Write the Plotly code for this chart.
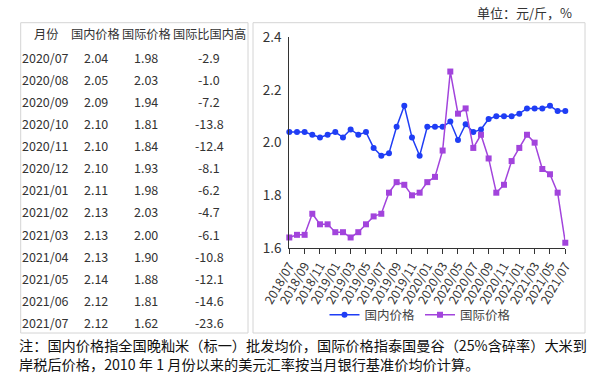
import plotly.graph_objects as go

# ---- data ----
months = [f"{y}/{m:02d}" for y, m in
          [(2018, m) for m in range(7, 13)] + [(2019, m) for m in range(1, 13)] +
          [(2020, m) for m in range(1, 13)] + [(2021, m) for m in range(1, 8)]]
domestic = [2.04, 2.04, 2.04, 2.03, 2.02, 2.03, 2.04, 2.02, 2.05, 2.03, 2.04, 1.98, 1.95,
            1.96, 2.06, 2.14, 2.02, 1.95, 2.06, 2.06, 2.06, 2.08, 2.01, 2.07, 2.04, 2.05,
            2.09, 2.10, 2.10, 2.10, 2.11, 2.13, 2.13, 2.13, 2.14, 2.12, 2.12]
international = [1.64, 1.65, 1.65, 1.73, 1.69, 1.69, 1.66, 1.66, 1.64, 1.66, 1.69, 1.72, 1.73,
                 1.81, 1.85, 1.84, 1.80, 1.81, 1.85, 1.87, 1.97, 2.27, 2.11, 2.13, 1.98, 2.03,
                 1.94, 1.81, 1.84, 1.93, 1.98, 2.03, 2.00, 1.90, 1.88, 1.81, 1.62]
tick_labels = months[::2]
y_ticks = [1.6, 1.8, 2.0, 2.2, 2.4]

table_header = ["月份", "国内价格", "国际价格", "国际比国内高"]
table_months = ["2020/07", "2020/08", "2020/09", "2020/10", "2020/11", "2020/12", "2021/01",
                "2021/02", "2021/03", "2021/04", "2021/05", "2021/06", "2021/07"]
table_dom = ["2.04", "2.05", "2.09", "2.10", "2.10", "2.10", "2.11", "2.13", "2.13", "2.13",
             "2.14", "2.12", "2.12"]
table_intl = ["1.98", "2.03", "1.94", "1.81", "1.84", "1.93", "1.98", "2.03", "2.00", "1.90",
              "1.88", "1.81", "1.62"]
table_diff = ["-2.9", "-1.0", "-7.2", "-13.8", "-12.4", "-8.1", "-6.2", "-4.7", "-6.1", "-10.8",
              "-12.1", "-14.6", "-23.6"]

unit_text = "单位：元/斤，%"
note_lines = ["注：国内价格指全国晚籼米（标一）批发均价，国际价格指泰国曼谷（25%含碎率）大米到",
              "岸税后价格，2010 年 1 月份以来的美元汇率按当月银行基准价均价计算。"]

W, H = 604, 384
FONT = "Noto Sans CJK SC"
BLUE = "#1f3df5"
PURPLE = "#a244dc"


def px(x):
    return x / W


def py(y):
    return 1 - y / H


fig = go.Figure()
fig.add_trace(go.Scatter(x=months, y=domestic, name="国内价格", mode="lines+markers",
                         line=dict(color=BLUE, width=1.5),
                         marker=dict(symbol="circle", size=6, color=BLUE),
                         cliponaxis=False))
fig.add_trace(go.Scatter(x=months, y=international, name="国际价格", mode="lines+markers",
                         line=dict(color=PURPLE, width=1.5),
                         marker=dict(symbol="square", size=6, color=PURPLE),
                         cliponaxis=False))

fig.update_layout(
    width=W, height=H, margin=dict(l=0, r=0, t=0, b=0, autoexpand=False),
    paper_bgcolor="white", plot_bgcolor="white",
    font=dict(family=FONT, color="#333"),
    showlegend=True,
    legend=dict(orientation="h", x=px(420), y=py(315), xanchor="center", yanchor="middle",
                font=dict(size=12.5, color="#444"), itemwidth=30, bgcolor="rgba(0,0,0,0)"),
    xaxis=dict(domain=[px(289.3), px(565.3)], type="category", range=[0, 36],
               tickmode="array", tickvals=tick_labels, ticktext=tick_labels, tickangle=-60,
               ticks="outside", ticklen=5, tickcolor="#333", showline=True,
               linecolor="#333", linewidth=1, showgrid=False, zeroline=False,
               tickfont=dict(size=12.3, color="#333"), anchor="y", automargin=False),
    yaxis=dict(domain=[py(248), py(37.3)], range=[1.6, 2.4], tickvals=y_ticks,
               ticktext=[f"{v:.1f}" for v in y_ticks],
               showline=True, linecolor="#333", linewidth=1, showgrid=False, zeroline=False,
               ticks="", tickfont=dict(size=13.5, color="#333"), ticklabelstandoff=4,
               automargin=False),
)

# panel borders
fig.add_shape(type="rect", xref="paper", yref="paper", x0=px(20.7), x1=px(248), y0=py(333),
              y1=py(22.7), line=dict(color="#d4d4d4", width=1))
fig.add_shape(type="rect", xref="paper", yref="paper", x0=px(253), x1=px(585), y0=py(333),
              y1=py(22.7), line=dict(color="#d4d4d4", width=1))

# table
col_x = [45.5, 95.5, 146, 209]
row_y0, row_dy = 57, 22.14
for cx, h in zip(col_x, table_header):
    fig.add_annotation(x=px(cx), y=py(34), xref="paper", yref="paper", text=h, showarrow=False,
                       xanchor="center", yanchor="middle", font=dict(size=12.2, color="#333"))
for i in range(len(table_months)):
    yy = py(row_y0 + i * row_dy)
    for cx, v in zip(col_x, [table_months[i], table_dom[i], table_intl[i], table_diff[i]]):
        fig.add_annotation(x=px(cx), y=yy, xref="paper", yref="paper", text=v, showarrow=False,
                           xanchor="center", yanchor="middle", font=dict(size=12.5, color="#333"))

# unit
fig.add_annotation(x=px(574), y=py(13), xref="paper", yref="paper", text=unit_text,
                   showarrow=False, xanchor="right", yanchor="middle",
                   font=dict(size=13, color="#333"))

# note
for k, line in enumerate(note_lines):
    fig.add_annotation(x=px(17), y=py(345 + k * 18.5), xref="paper", yref="paper", text=line,
                       showarrow=False, xanchor="left", yanchor="middle",
                       font=dict(size=14.2, color="#111"))

fig.write_html("out.html", config={"displayModeBar": False},
               post_script="document.body.style.margin='0';")
